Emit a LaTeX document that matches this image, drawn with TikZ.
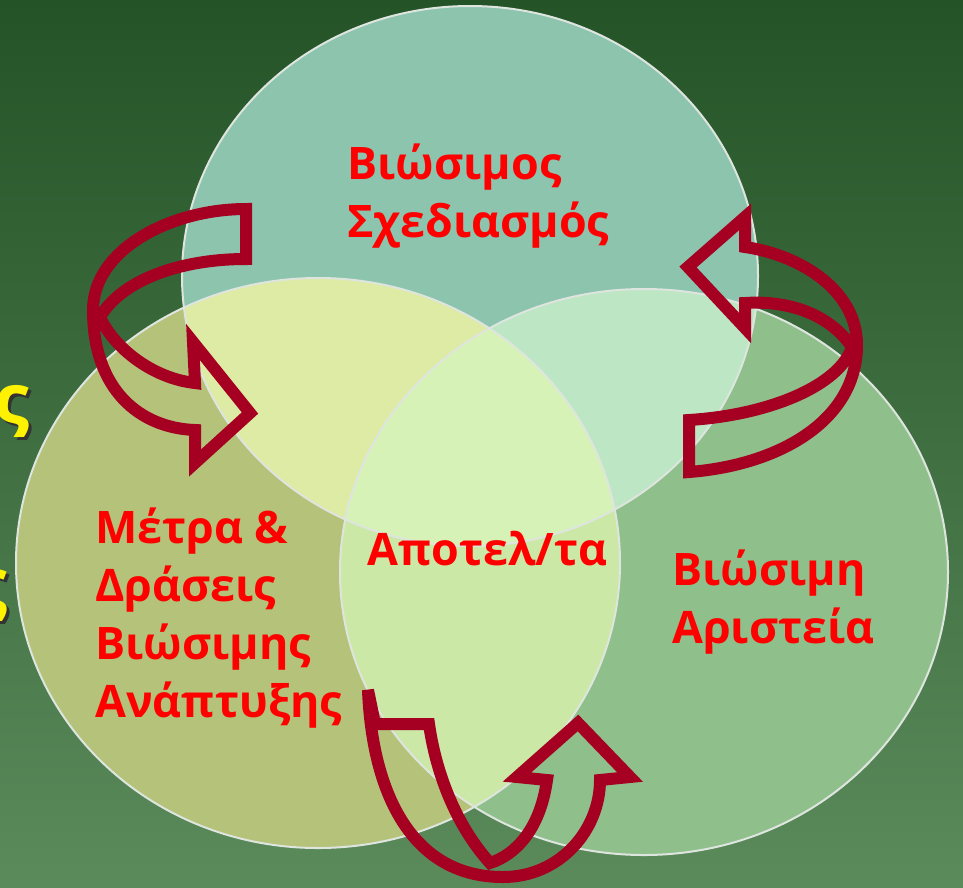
\documentclass[tikz,border=0pt]{standalone}
\usepackage{fontspec}
\setmainfont{Open Sans}
\usetikzlibrary{positioning}
\definecolor{bgtop}{HTML}{245327}
\definecolor{bgbot}{HTML}{5B8B5B}
\definecolor{topell}{HTML}{8CC4AE}
\definecolor{leftell}{HTML}{B4C27A}
\definecolor{rightell}{HTML}{8FC08B}
\definecolor{tlell}{HTML}{DDEBA4}
\definecolor{trell}{HTML}{BCE6C4}
\definecolor{lrell}{HTML}{CBE8A6}
\definecolor{midell}{HTML}{D6F2B6}
\definecolor{arrowred}{HTML}{A50021}
\def\toppath{(470,276) ellipse [x radius=288, y radius=270]}
\def\leftpath{(318,563) ellipse [x radius=302, y radius=285]}
\def\rightpath{(644,572) ellipse [x radius=304, y radius=283]}
\tikzset{
  lbl/.style={text=red, font=\bfseries\fontsize{25.5}{33}\selectfont, align=left, inner sep=0pt},
  ribbon/.style={draw=arrowred, line width=0.24cm, line join=miter},
  ringline/.style={draw=white!85!bgtop, line width=0.04cm},
  yel/.style={text=yellow, font=\bfseries\fontsize{40}{46}\selectfont, inner sep=0pt},
  yelshade/.style={text=black!80, font=\bfseries\fontsize{40}{46}\selectfont, inner sep=0pt}
}
\begin{document}
\begin{tikzpicture}[x=0.02cm, y=-0.02cm]
\useasboundingbox (0,0) rectangle (963,887);
\shade[top color=bgtop, bottom color=bgbot] (0,0) rectangle (963,887);
% leftover letters %
\node[yelshade, anchor=base east] (sa) at (33,427) {ς};
\node[yel, anchor=base east] (s1) at (30,424) {ς};
\node[yelshade, anchor=base east] (sb) at (11,611) {ς};
\node[yel, anchor=base east] (s2) at (8,608) {ς};
% rings %
\fill[topell] \toppath;
\fill[leftell] \leftpath;
\fill[rightell] \rightpath;
\begin{scope}
  \clip \toppath;
  \fill[tlell] \leftpath;
  \fill[trell] \rightpath;
\end{scope}
\begin{scope}
  \clip \leftpath;
  \fill[lrell] \rightpath;
  \clip \toppath;
  \fill[midell] \rightpath;
\end{scope}
\draw[ringline] \toppath;
\draw[ringline] \leftpath;
\draw[ringline] \rightpath;
% arrows %
\draw[ribbon] (246,209) .. controls (170,209) and (93,250) .. (93,310)
  .. controls (93,390) and (140,428) .. (195,430) -- (195,463) -- (250,413)
  -- (193,342) -- (195,383) .. controls (150,378) and (112,345) .. (100,317)
  .. controls (122,280) and (180,259) .. (246,259) -- cycle;
\draw[ribbon] (688,267) -- (745,217) -- (745,247)
  .. controls (800,255) and (857,290) .. (857,345)
  .. controls (857,420) and (780,465) .. (689,472) -- (689,420)
  .. controls (770,415) and (840,385) .. (852,347)
  .. controls (830,315) and (790,300) .. (745,303) -- (745,328) -- cycle;
\draw[ribbon] (368,690) .. controls (372,790) and (410,877) .. (503,877)
  .. controls (560,877) and (600,830) .. (600,780) -- (630,777) -- (578,723)
  -- (517,777) -- (547,780) .. controls (540,830) and (515,855) .. (490,863)
  .. controls (460,830) and (437,780) .. (429,724) -- (375,724) -- cycle;
% labels %
\node[lbl, anchor=base west] (plan) at (347,237) {Βιώσιμος\\Σχεδιασμός};
\node[lbl, anchor=base west] (acts) at (95,717) {Μέτρα \&\\Δράσεις\\Βιώσιμης\\Ανάπτυξης};
\node[lbl, anchor=base west] (excel) at (672,643) {Βιώσιμη\\Αριστεία};
\node[lbl, anchor=base west] (res) at (367,565) {Αποτελ/τα};
\end{tikzpicture}
\end{document}
